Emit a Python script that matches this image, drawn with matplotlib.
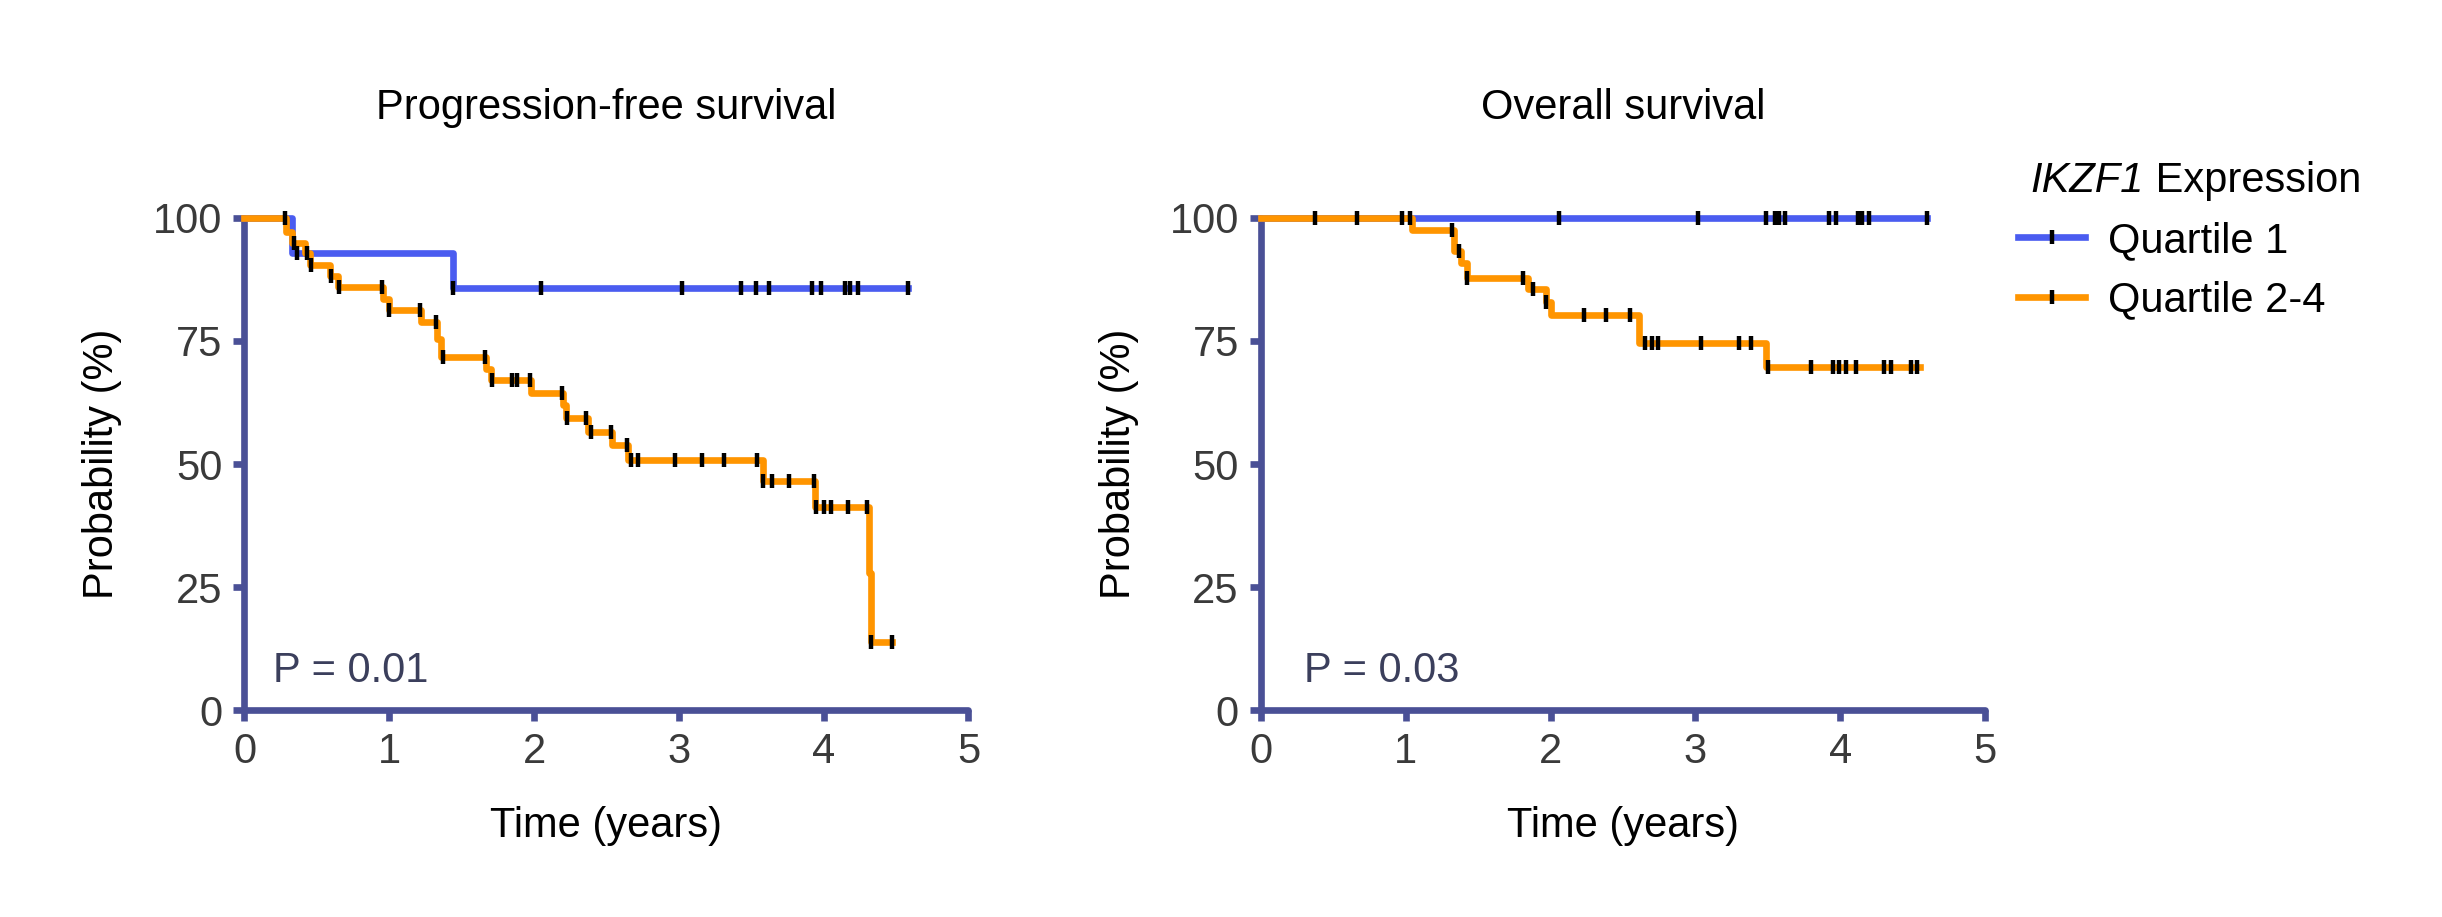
import numpy as np
import matplotlib
matplotlib.use('Agg')
import matplotlib.pyplot as plt
from matplotlib.lines import Line2D

plt.rcParams['font.family'] = ['Liberation Sans', 'DejaVu Sans']

blue = '#4a5cf0'
orange = '#ff9500'
axis_col = '#4a5096'

# progression-free survival, quartile 1
pfs_q1_t = [0, 0.33, 1.44, 4.58]
pfs_q1_s = [100, 92.9, 85.7, 85.7]
pfs_q1_cens = [0.36, 1.44, 2.05, 3.02, 3.43, 3.53, 3.62, 3.92, 3.98, 4.15, 4.18, 4.24, 4.58]

# progression-free survival, quartile 2-4
pfs_q24_t = [0, 0.29, 0.33, 0.42, 0.45, 0.59, 0.645, 0.96, 1.0, 1.22, 1.33, 1.36, 1.67,
             1.70, 1.98, 2.20, 2.22, 2.37, 2.54, 2.65, 3.58, 3.94, 4.31, 4.33, 4.47]
pfs_q24_s = [100, 97.2, 95.0, 92.9, 90.4, 88.2, 85.9, 83.5, 81.3, 78.9, 75.5, 71.8, 69.4,
             67.1, 64.4, 62.0, 59.3, 56.6, 53.9, 50.8, 46.5, 41.3, 27.8, 13.9, 13.9]
pfs_q24_cens = [0.28, 0.34, 0.43, 0.46, 0.60, 0.65, 0.95, 1.0, 1.21, 1.32, 1.37, 1.66, 1.71,
                1.85, 1.88, 1.97, 2.19, 2.23, 2.36, 2.39, 2.53, 2.64, 2.67, 2.72, 2.97, 3.16,
                3.31, 3.54, 3.58, 3.64, 3.76, 3.93, 3.95, 4.0, 4.05, 4.17, 4.30, 4.33, 4.47]

# overall survival, quartile 1
os_q1_t = [0, 4.6]
os_q1_s = [100, 100]
os_q1_cens = [2.06, 3.02, 3.49, 3.55, 3.58, 3.62, 3.92, 3.97, 4.12, 4.15, 4.2, 4.6]

# overall survival, quartile 2-4
os_q24_t = [0, 1.04, 1.33, 1.38, 1.42, 1.84, 1.97, 2.0, 2.61, 3.49, 4.55]
os_q24_s = [100, 97.6, 93.2, 90.8, 87.9, 85.5, 82.9, 80.2, 74.6, 69.7, 69.7]
os_q24_cens = [0.37, 0.66, 0.97, 1.03, 1.32, 1.37, 1.42, 1.81, 1.88, 1.97, 2.23, 2.38, 2.55,
               2.65, 2.70, 2.74, 3.04, 3.30, 3.38, 3.50, 3.80, 3.95, 3.99, 4.04, 4.11, 4.30,
               4.35, 4.49, 4.53]

titles = ['Progression-free survival', 'Overall survival']
p_values = ['P = 0.01', 'P = 0.03']
p_xpos = [0.2, 0.3]
legend_labels = ['Quartile 1', 'Quartile 2-4']

LW = 4.8      # curve width
SW = 4.8      # spine width


def surv_at(t, s, x):
    """ Value of the step curve at time x """
    i = np.searchsorted(t, x, side='right') - 1
    return np.array(s)[np.clip(i, 0, len(s) - 1)]


def km(ax, t, s, cens, color):
    ax.step(t, s, where='post', color=color, lw=LW, clip_on=False)
    ax.plot(cens, surv_at(t, s, cens), ls='none', marker='|', ms=9.5, mew=3.2,
            color='black', clip_on=False, zorder=5)


fig = plt.figure(figsize=(24.42, 9.17), dpi=100)
ax1 = fig.add_axes([0.1001, 0.2257, 0.2965, 0.5366])
ax2 = fig.add_axes([0.5164, 0.2257, 0.2965, 0.5366])

km(ax1, pfs_q1_t, pfs_q1_s, pfs_q1_cens, blue)
km(ax1, pfs_q24_t, pfs_q24_s, pfs_q24_cens, orange)
km(ax2, os_q1_t, os_q1_s, os_q1_cens, blue)
km(ax2, os_q24_t, os_q24_s, os_q24_cens, orange)

for i, ax in enumerate([ax1, ax2]):
    ax.set_xlim(0, 5)
    ax.set_ylim(0, 100)
    ax.set_xticks([0, 1, 2, 3, 4, 5])
    ax.set_yticks([0, 25, 50, 75, 100])
    for side in ['top', 'right']:
        ax.spines[side].set_visible(False)
    for side in ['left', 'bottom']:
        ax.spines[side].set_color(axis_col)
        ax.spines[side].set_linewidth(SW)
        ax.spines[side].set_capstyle('round')
        ax.spines[side].set_zorder(1)
    ax.tick_params(length=8, width=SW, color=axis_col, labelsize=30,
                   labelcolor='#3a3a3a', pad=8)
    ax.set_xlabel('Time (years)', fontsize=30, labelpad=24)
    ax.set_ylabel('Probability (%)', fontsize=30, labelpad=22)
    ax.set_title(titles[i], fontsize=30, pad=71)
    ax.text(p_xpos[i], 8, p_values[i], fontsize=30, color='#3b3f5c', va='center')

handles = [Line2D([0], [0], color=c, lw=LW, marker='|', ms=9.5, mew=3.2,
                  markeredgecolor='black') for c in [blue, orange]]
fig.legend(handles, legend_labels, loc='upper left', bbox_to_anchor=(0.8265, 0.759),
           frameon=False, fontsize=30, handlelength=1.6, handletextpad=0.55,
           labelspacing=0.46, borderpad=0, borderaxespad=0, numpoints=1)

# legend title: italic gene name followed by upright word
fig.canvas.draw()
t1 = fig.text(0.8315, 0.8025, 'IKZF1', fontsize=30, style='italic', va='center')
bb = t1.get_window_extent(fig.canvas.get_renderer())
fig.text(bb.x1 / fig.bbox.width, 0.8025, ' Expression', fontsize=30, va='center')

fig.savefig('out.png', dpi=100)
